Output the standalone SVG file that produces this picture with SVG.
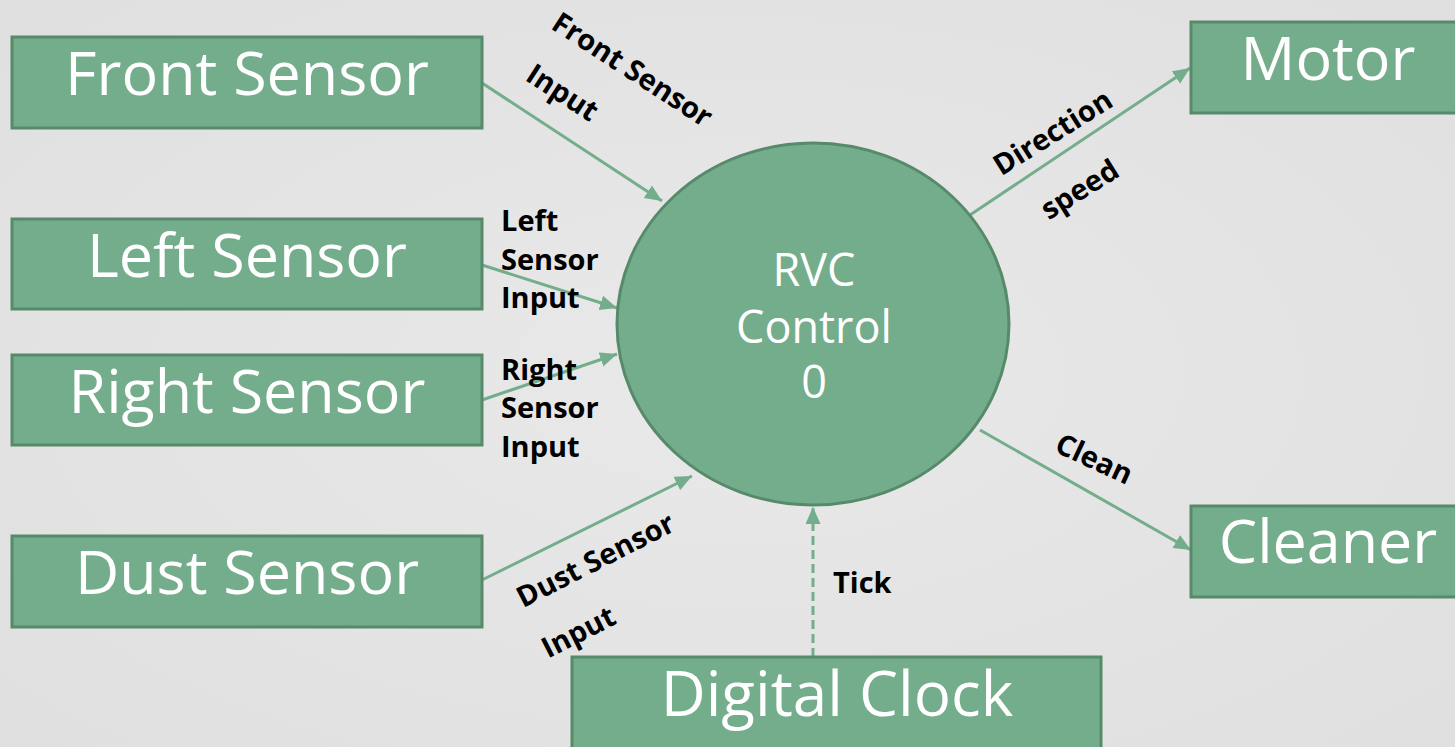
<svg xmlns="http://www.w3.org/2000/svg" width="1455" height="747" viewBox="0 0 1455 747">
<style>
.box{fill:#74ad8c;stroke:#578a6b;stroke-width:3}
.bt{font-family:"Open Sans","Noto Sans",sans-serif;font-size:61px;fill:#ffffff;text-anchor:middle}
.ct{font-family:"Open Sans","Noto Sans",sans-serif;font-size:45px;fill:#ffffff;text-anchor:middle}
.lb{font-family:"Open Sans","Noto Sans",sans-serif;font-size:29px;font-weight:bold;fill:#000000}
.lbm{font-family:"Open Sans","Noto Sans",sans-serif;font-size:29px;font-weight:bold;fill:#000000;text-anchor:middle}
.ln{stroke:#74ad8c;stroke-width:3;fill:none;marker-end:url(#ah)}
</style>
<defs>
<marker id="ah" markerUnits="userSpaceOnUse" markerWidth="18" markerHeight="16" refX="17" refY="7.5" orient="auto">
<path d="M0,0 L17,7.5 L0,15 z" fill="#74ad8c"/>
</marker>
<radialGradient id="bg" cx="0.5" cy="0.5" r="0.8">
<stop offset="0" stop-color="#e9e9e9"/>
<stop offset="1" stop-color="#dedede"/>
</radialGradient>
</defs>
<rect x="0" y="0" width="1455" height="747" fill="url(#bg)"/>

<g id="connectors">
<line class="ln" x1="482" y1="83" x2="662" y2="201"/>
<line class="ln" x1="482" y1="265" x2="617" y2="308"/>
<line class="ln" x1="482" y1="400" x2="617" y2="354"/>
<line class="ln" x1="482" y1="580" x2="692" y2="476"/>
<line class="ln" x1="813" y1="657" x2="813" y2="507" stroke-dasharray="9 5"/>
<line class="ln" x1="970" y1="215" x2="1190" y2="68"/>
<line class="ln" x1="980" y1="430" x2="1191" y2="550"/>
<text class="lbm" transform="translate(627,78) rotate(33)">Front Sensor</text>
<text class="lbm" transform="translate(557,101) rotate(33)">Input</text>
<text class="lb" x="501" y="231">Left</text>
<text class="lb" x="501" y="270">Sensor</text>
<text class="lb" x="501" y="308">Input</text>
<text class="lb" x="501" y="380">Right</text>
<text class="lb" x="501" y="418">Sensor</text>
<text class="lb" x="501" y="457">Input</text>
<text class="lbm" transform="translate(600,569) rotate(-27)">Dust Sensor</text>
<text class="lbm" transform="translate(583,641) rotate(-27)">Input</text>
<text class="lb" x="833" y="593">Tick</text>
<text class="lbm" transform="translate(1058,141) rotate(-32)">Direction</text>
<text class="lbm" transform="translate(1085,198) rotate(-32)">speed</text>
<text class="lbm" transform="translate(1090,468) rotate(25)">Clean</text>
</g>

<g id="front-sensor">
<rect class="box" x="12" y="37" width="470" height="91"/>
<text class="bt" x="247" y="95">Front Sensor</text>
</g>
<g id="left-sensor">
<rect class="box" x="12" y="219" width="470" height="90"/>
<text class="bt" x="247" y="277">Left Sensor</text>
</g>
<g id="right-sensor">
<rect class="box" x="12" y="355" width="470" height="90"/>
<text class="bt" x="247" y="413">Right Sensor</text>
</g>
<g id="dust-sensor">
<rect class="box" x="12" y="536" width="470" height="91"/>
<text class="bt" x="247" y="594">Dust Sensor</text>
</g>
<g id="rvc-control">
<ellipse cx="813" cy="324" rx="196" ry="181" fill="#74ad8c" stroke="#578a6b" stroke-width="3"/>
<text class="ct" x="814" y="286">RVC</text>
<text class="ct" x="814" y="343">Control</text>
<text class="ct" x="814" y="398">0</text>
</g>
<g id="motor">
<rect class="box" x="1191" y="22" width="274" height="91"/>
<text class="bt" x="1328" y="80">Motor</text>
</g>
<g id="cleaner">
<rect class="box" x="1191" y="506" width="274" height="91"/>
<text class="bt" x="1328" y="563">Cleaner</text>
</g>
<g id="digital-clock">
<rect class="box" x="572" y="657" width="529" height="100"/>
<text class="bt" x="837" y="716" style="font-size:62px">Digital Clock</text>
</g>
</svg>
